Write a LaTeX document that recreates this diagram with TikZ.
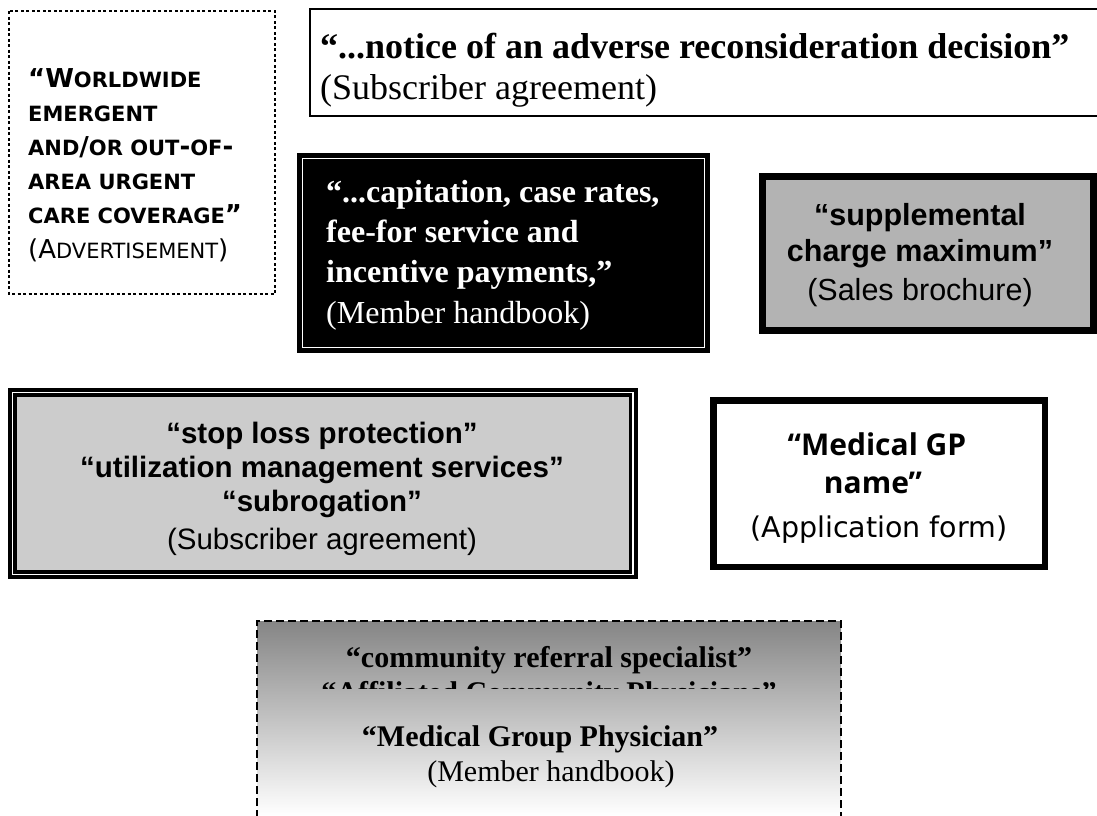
\documentclass[tikz,border=0pt]{standalone}
\usepackage{fontspec}
\setmainfont{Liberation Serif}
\newfontfamily\arialf{Liberation Sans}
\newfontfamily\capsf{DejaVu Sans}
\newfontfamily\gpf{Open Sans}
\definecolor{paneA}{HTML}{CCCCCC}
\definecolor{paneB}{HTML}{B3B3B3}
\definecolor{shadeTop}{HTML}{858585}
\newcommand{\fs}[1]{\fontsize{#1}{#1}\selectfont}
% full-size letters inside the small-capital lines
\newcommand{\fullcap}[1]{{\fs{26}#1}}
\begin{document}
\begin{tikzpicture}[x=1pt,y=-1pt,
  txt/.style={inner sep=0pt,anchor=base},
  ltxt/.style={inner sep=0pt,anchor=base west},
  serifq/.style={txt,font=\fs{30}},
  sansq/.style={txt,font=\arialf\fs{29.5}},
  smallcap/.style={ltxt,font=\capsf\fs{21}}]
\clip (0,0) rectangle (1097,815);
\fill[white] (0,0) rectangle (1097,815);

% dotted advertisement frame
\draw[line width=1.8pt,dash pattern=on 3pt off 2.5pt] (9,11) rectangle (275,294);
\node[smallcap] (ad1) at (28,87) {\bfseries \fullcap{“W}ORLDWIDE};
\node[smallcap] (ad2) at (28,121) {\bfseries EMERGENT};
\node[smallcap] (ad3) at (28,155) {\bfseries AND\fullcap{/}OR OUT\fullcap{-}OF\fullcap{-}};
\node[smallcap] (ad4) at (28,189) {\bfseries AREA URGENT};
\node[smallcap] (ad5) at (28,223) {\bfseries CARE COVERAGE\fullcap{”}};
\node[smallcap] (ad6) at (28,258) {\fullcap{(A}DVERTISEMENT\fullcap{)}};

% subscriber agreement frame (runs off the right edge)
\draw[line width=2pt] (310,8.5) rectangle (1110,115.5);
\node[ltxt,font=\fs{36}] (sa1) at (320,58) {\bfseries “...notice of an adverse reconsideration decision”};
\node[ltxt,font=\fs{36}] (sa2) at (320,99) {(Subscriber agreement)};

% black member handbook panel
\fill[black] (297,153) rectangle (709.5,352.5);
\draw[white,line width=1pt] (302,158) rectangle (704.5,347.5);
\node[ltxt,font=\fs{32},text=white] (mh1) at (326,202) {\bfseries “...capitation, case rates,};
\node[ltxt,font=\fs{32},text=white] (mh2) at (326,242) {\bfseries fee-for service and};
\node[ltxt,font=\fs{32},text=white] (mh3) at (326,282) {\bfseries incentive payments,”};
\node[ltxt,font=\fs{32},text=white] (mh4) at (326,323) {(Member handbook)};

% sales brochure panel
\filldraw[fill=paneB,line width=7pt] (762.5,176.5) rectangle (1093.5,330.5);
\node[sansq,font=\arialf\fs{30.5}] (sb1) at (920,225) {\bfseries “supplemental};
\node[sansq,font=\arialf\fs{30.5}] (sb2) at (920,261) {\bfseries charge maximum”};
\node[sansq,font=\arialf\fs{30.5}] (sb3) at (920,300) {(Sales brochure)};

% double framed subscriber agreement panel
\fill[black] (8,388) rectangle (637.5,579);
\fill[white] (12,392) rectangle (633.5,575);
\fill[black] (13.3,393.3) rectangle (632.2,573.7);
\fill[paneA] (16.8,396.8) rectangle (628.7,570.2);
\node[sansq] (sl1) at (322,443) {\bfseries “stop loss protection”};
\node[sansq] (sl2) at (322,477) {\bfseries “utilization management services”};
\node[sansq] (sl3) at (322,511) {\bfseries “subrogation”};
\node[sansq] (sl4) at (322,549) {(Subscriber agreement)};

% application form frame
\draw[line width=6.5pt] (713.25,400.25) rectangle (1044.75,566.75);
\node[txt,font=\gpf\fs{30}] (gp1) at (877,455) {\bfseries “Medical GP};
\node[txt,font=\gpf\fs{30}] (gp2) at (873,493) {\bfseries name”};
\node[txt,font=\capsf\fs{28.5}] (gp3) at (879,537) {(Application form)};

% shaded physician panel
\shade[top color=shadeTop,bottom color=white] (257,621) rectangle (841,815);
\begin{scope}
  \clip (257,621) rectangle (841,688);
  \node[serifq] (cr1) at (549,667) {\bfseries “community referral specialist”};
  \node[serifq] (cr2) at (549,702) {\bfseries “Affiliated Community Physicians”};
\end{scope}
\node[serifq] (mg1) at (540,746) {\bfseries “Medical Group Physician”};
\node[serifq] (mg2) at (551,781) {(Member handbook)};
\draw[line width=1.8pt,dash pattern=on 8pt off 4pt] (257,830) -- (257,621) -- (841,621) -- (841,830);
\end{tikzpicture}
\end{document}
